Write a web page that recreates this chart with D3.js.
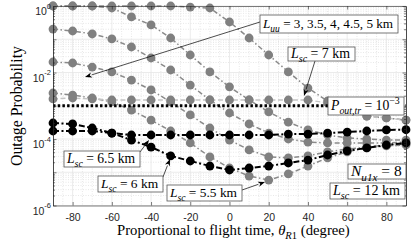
<!DOCTYPE html>
<html>
<head>
<meta charset="utf-8">
<script src="https://cdn.jsdelivr.net/npm/d3@7"></script>
<style>
  body { margin: 0; background: #fff; }
  svg { display: block; }
  text { white-space: pre; }
</style>
</head>
<body>
<script>
// flight-time angle (degree)
const THETA = [-90, -80, -70, -60, -50, -40, -30, -20, -10, 0, 10, 20, 30, 40, 50, 60, 70, 80, 90];

// gray family, L_uu = 5 ... 3 km
const LUU_5 = [1, 1, 1, 1, 1, 1, 1, 0.93, 0.87, 0.33, 0.109, 0.0336, 0.0104, 0.0034, 1.39e-3, 7.4e-4, 4.9e-4, 4.3e-4, 3.7e-4];
const LUU_45 = [1, 1, 1, 0.87, 0.47, 0.27, 0.109, 0.0336, 0.0104, 3.7e-3, 1.49e-3, 6.5e-4, 3.2e-4, 1.87e-4, 1.32e-4, 1.07e-4, 1.0e-4, 9.3e-5, 9.3e-5];
const LUU_4 = [0.203, 0.177, 0.144, 0.102, 0.0585, 0.0273, 0.0119, 4.2e-3, 1.49e-3, 6.05e-4, 2.83e-4, 1.51e-4, 1.0e-4, 8.1e-5, 7.6e-5, 7.6e-5, 7.6e-5, 7.6e-5, 8.1e-5];
const LUU_35 = [0.0207, 0.0193, 0.0146, 0.0104, 5.9e-3, 2.98e-3, 1.3e-3, 5.3e-4, 2.14e-4, 9.3e-5, 4.7e-5, 2.9e-5, 2.7e-5, 3.1e-5, 4.1e-5, 5.0e-5, 5.7e-5, 6.6e-5, 7.1e-5];
const LUU_3 = [2.42e-3, 2.1e-3, 1.71e-3, 1.3e-3, 7.4e-4, 3.7e-4, 1.74e-4, 7.6e-5, 2.9e-5, 1.34e-5, 7.7e-6, 5.8e-6, 8.9e-6, 1.54e-5, 2.7e-5, 4.1e-5, 5.4e-5, 6.2e-5, 6.6e-5];

// L_sc curves
const LSC_7 = [1.6e-3, 1.71e-3, 1.6e-3, 1.49e-3, 1.49e-3, 1.49e-3, 1.49e-3, 1.49e-3, 1.49e-3, 1.49e-3, 1.49e-3, 1.49e-3, 1.49e-3, 1.49e-3, 1.21e-3, 7.4e-4, 4.9e-4, 4.3e-4, 3.7e-4];
const LSC_65 = [3.03e-4, 2.83e-4, 2.14e-4, 1.51e-4, 1.32e-4, 1.32e-4, 1.32e-4, 1.32e-4, 1.32e-4, 1.32e-4, 1.32e-4, 1.32e-4, 1.41e-4, 1.41e-4, 1.51e-4, 1.62e-4, 1.74e-4, 1.87e-4, 1.9e-4];
const LSC_6 = [1.74e-4, 1.74e-4, 1.74e-4, 1.51e-4, 9.3e-5, 5.7e-5, 3.1e-5, 2.18e-5, 1.54e-5, 1.17e-5, 1.34e-5, 1.54e-5, 1.9e-5, 2.33e-5, 3.3e-5, 4.4e-5, 5.4e-5, 6.6e-5, 7.6e-5];

const P_TR = 1e-3;

const X_TICKS = [-80, -60, -40, -20, 0, 20, 40, 60, 80];
const Y_DECADES = [1, 1e-1, 1e-2, 1e-3, 1e-4, 1e-5, 1e-6];
const Y_LABELS = [[1, "0"], [1e-2, "-2"], [1e-4, "-4"], [1e-6, "-6"]];

const WIDTH = 415;
const HEIGHT = 243;
const M = { left: 53, right: 406, top: 6, bottom: 205.5 };
const SERIF = "'Liberation Serif', 'Times New Roman', serif";
const SANS = "'Liberation Sans', Arial, sans-serif";
const AXIS = "#262626";

const svg = d3.select("body").append("svg")
  .attr("width", WIDTH)
  .attr("height", HEIGHT);

const x = d3.scaleLinear().domain([-90, 90]).range([M.left, M.right]);
const y = d3.scaleLog().domain([1e-6, 1]).range([M.bottom, M.top]);

// grid
const yMinor = [];
for (let k = -6; k < 0; k++) for (let m = 2; m <= 9; m++) yMinor.push(m * Math.pow(10, k));
const xMinor = d3.range(-85, 90, 5).filter((v) => v % 20 !== 0);

const grid = svg.append("g");
grid.selectAll(".xm").data(xMinor).enter().append("line")
  .attr("x1", (d) => x(d)).attr("x2", (d) => x(d))
  .attr("y1", M.top).attr("y2", M.bottom)
  .attr("stroke", "#d9d9d9").attr("stroke-width", 0.6).attr("stroke-dasharray", "1,1.5");
grid.selectAll(".ym").data(yMinor).enter().append("line")
  .attr("x1", M.left).attr("x2", M.right)
  .attr("y1", (d) => y(d)).attr("y2", (d) => y(d))
  .attr("stroke", "#d9d9d9").attr("stroke-width", 0.6).attr("stroke-dasharray", "1,1.5");
grid.selectAll(".xM").data(X_TICKS).enter().append("line")
  .attr("x1", (d) => x(d)).attr("x2", (d) => x(d))
  .attr("y1", M.top).attr("y2", M.bottom)
  .attr("stroke", "#e2e2e2").attr("stroke-width", 0.7);
grid.selectAll(".yM").data(Y_DECADES).enter().append("line")
  .attr("x1", M.left).attr("x2", M.right)
  .attr("y1", (d) => y(d)).attr("y2", (d) => y(d))
  .attr("stroke", "#e2e2e2").attr("stroke-width", 0.7);

// curves
const line = d3.line().x((d, i) => x(THETA[i])).y((d) => y(d));

const SERIES = [
  { data: LUU_5, color: "#808080", lineColor: "#8a8a8a", dash: "5,2.5,1.5,2.5", w: 1.5 },
  { data: LUU_45, color: "#808080", lineColor: "#8a8a8a", dash: "5,2.5,1.5,2.5", w: 1.5 },
  { data: LUU_4, color: "#808080", lineColor: "#8a8a8a", dash: "5,2.5,1.5,2.5", w: 1.5 },
  { data: LUU_35, color: "#808080", lineColor: "#8a8a8a", dash: "5,2.5,1.5,2.5", w: 1.5 },
  { data: LUU_3, color: "#808080", lineColor: "#8a8a8a", dash: "5,2.5,1.5,2.5", w: 1.5 },
  { data: LSC_7, color: "#808080", lineColor: "#c4c4c4", dash: "5,2.5", w: 1.5 },
  { data: LSC_65, color: "#000", lineColor: "#000", dash: "6,2.5,2,2.5", w: 2 },
  { data: LSC_6, color: "#000", lineColor: "#000", dash: "6,2.5,2,2.5", w: 2 },
];

SERIES.forEach((s) => {
  const g = svg.append("g");
  g.append("path")
    .attr("d", line(s.data))
    .attr("fill", "none")
    .attr("stroke", s.lineColor)
    .attr("stroke-width", s.w)
    .attr("stroke-dasharray", s.dash);
  g.selectAll("circle").data(s.data).enter().append("circle")
    .attr("cx", (d, i) => x(THETA[i]))
    .attr("cy", (d) => y(d))
    .attr("r", 4.4)
    .attr("fill", s.color);
});

// threshold
svg.append("line")
  .attr("x1", M.left).attr("x2", M.right)
  .attr("y1", y(P_TR)).attr("y2", y(P_TR))
  .attr("stroke", "#000").attr("stroke-width", 3)
  .attr("stroke-dasharray", "2.5,2.2");

// axes
const ax = svg.append("g").attr("font-family", SANS);
const bottom = ax.append("g").attr("transform", `translate(0,${M.bottom})`)
  .call(d3.axisBottom(x).tickValues(X_TICKS).tickSize(-3.5).tickSizeOuter(0).tickPadding(8.5).tickFormat((d) => String(d)));
ax.append("g").attr("transform", `translate(0,${M.top})`)
  .call(d3.axisTop(x).tickValues(X_TICKS).tickSize(-3.5).tickSizeOuter(0).tickFormat(""));
ax.append("g").attr("transform", `translate(${M.left},0)`)
  .call(d3.axisLeft(y).tickValues(Y_DECADES).tickSize(-3.5).tickSizeOuter(0).tickFormat(""));
ax.append("g").attr("transform", `translate(${M.left},0)`)
  .call(d3.axisLeft(y).tickValues(yMinor).tickSize(-2).tickSizeOuter(0).tickFormat(""));
ax.append("g").attr("transform", `translate(${M.right},0)`)
  .call(d3.axisRight(y).tickValues(Y_DECADES).tickSize(-3.5).tickSizeOuter(0).tickFormat(""));
ax.append("g").attr("transform", `translate(${M.right},0)`)
  .call(d3.axisRight(y).tickValues(yMinor).tickSize(-2).tickSizeOuter(0).tickFormat(""));
ax.selectAll(".domain").attr("stroke", AXIS).attr("stroke-width", 0.6);
ax.selectAll(".tick line").attr("stroke", AXIS).attr("stroke-width", 0.6);
bottom.selectAll("text").attr("font-size", 10.5).attr("fill", AXIS).attr("font-family", SANS);

const yl = ax.selectAll(".ylab").data(Y_LABELS).enter().append("text")
  .attr("x", 51)
  .attr("y", (d) => y(d[0]) + 9)
  .attr("text-anchor", "end")
  .attr("fill", AXIS)
  .attr("font-size", 10.5);
yl.append("tspan").text("10");
yl.append("tspan").text((d) => d[1]).attr("font-size", 7.5).attr("dy", -6.5);

// math text helper
function addMath(parent, parts, fs) {
  const t = parent.append("text").attr("font-family", SERIF).attr("font-size", fs).attr("fill", "#000");
  let shift = 0;
  parts.forEach((p) => {
    const target = p.s === "sub" ? fs * 0.3 : p.s === "sup" ? -fs * 0.42 : 0;
    const ts = t.append("tspan").text(p.t).attr("dy", target - shift);
    shift = target;
    if (p.s) ts.attr("font-size", fs * 0.72);
    if (p.i) ts.attr("font-style", "italic");
  });
  return t;
}

function fitText(t, target, fs) {
  const w = t.node().getBBox().width;
  const nfs = fs * target / w;
  t.attr("font-size", nfs);
  t.selectAll("tspan").each(function () {
    const el = d3.select(this);
    const f = el.attr("font-size");
    if (f) el.attr("font-size", +f * nfs / fs);
    const dy = +el.attr("dy");
    el.attr("dy", dy * nfs / fs);
  });
  return nfs;
}

function annot(parts, x0, y0, x1, y1) {
  const g = svg.append("g");
  g.append("rect").attr("x", x0).attr("y", y0).attr("width", x1 - x0).attr("height", y1 - y0)
    .attr("fill", "#fff").attr("stroke", "#555").attr("stroke-width", 0.8);
  const t = addMath(g, parts, 12);
  const fs = fitText(t, x1 - x0 - 6, 12);
  t.attr("x", x0 + 3).attr("y", (y0 + y1) / 2 + fs * 0.3);
}

function arrow(x1, y1, x2, y2) {
  const a = Math.atan2(y2 - y1, x2 - x1);
  const L = 7, W = 2.6;
  const bx = x2 - L * Math.cos(a), by = y2 - L * Math.sin(a);
  svg.append("line").attr("x1", x1).attr("y1", y1).attr("x2", bx).attr("y2", by)
    .attr("stroke", "#000").attr("stroke-width", 0.7);
  const px = -Math.sin(a) * W, py = Math.cos(a) * W;
  svg.append("path")
    .attr("d", `M${x2},${y2}L${bx + px},${by + py}L${bx + 2 * Math.cos(a)},${by + 2 * Math.sin(a)}L${bx - px},${by - py}Z`)
    .attr("fill", "#000");
}

const KM = { t: " km" };

arrow(260, 22, 85, 77);
annot([{ t: "L", i: true }, { t: "uu", i: true, s: "sub" }, { t: " = 3, 3.5, 4, 4.5, 5 km" }], 260, 15, 398, 33);

arrow(315, 61, 304, 96);
annot([{ t: "L", i: true }, { t: "sc", i: true, s: "sub" }, { t: " = 7" }, KM], 288, 47, 355, 61);

annot([{ t: "P", i: true }, { t: "out,tr", i: true, s: "sub" }, { t: " = 10" }, { t: "\u22123", s: "sup" }], 328, 97, 404, 115);

annot([{ t: "N", i: true }, { t: "u1x", i: true, s: "sub" }, { t: " = 8" }], 348, 164, 406, 179);
annot([{ t: "L", i: true }, { t: "sc", i: true, s: "sub" }, { t: " = 12" }, KM], 330, 183, 405, 199);

arrow(140, 152, 149, 140);
annot([{ t: "L", i: true }, { t: "sc", i: true, s: "sub" }, { t: " = 6.5" }, KM], 64, 151, 140, 167);

arrow(163, 177, 170, 159);
annot([{ t: "L", i: true }, { t: "sc", i: true, s: "sub" }, { t: " = 6" }, KM], 98, 176, 163, 192);

arrow(242, 190, 265, 182);
annot([{ t: "L", i: true }, { t: "sc", i: true, s: "sub" }, { t: " = 5.5" }, KM], 167, 185, 242, 201);

// axis labels
const xl = addMath(svg, [
  { t: "Proportional to flight time, " },
  { t: "\u03b8", i: true },
  { t: "R", i: true, s: "sub" },
  { t: "1", s: "sub" },
  { t: " (degree)" },
], 12);
fitText(xl, 233, 12);
xl.attr("x", 117).attr("y", 235);

const ylab = svg.append("text")
  .attr("font-family", SERIF)
  .attr("font-size", 12)
  .text("Outage Probability");
const yw = ylab.node().getBBox().width;
ylab.attr("font-size", 12 * 120 / yw)
  .attr("text-anchor", "middle")
  .attr("transform", "translate(22,106) rotate(-90)");
</script>
</body>
</html>
